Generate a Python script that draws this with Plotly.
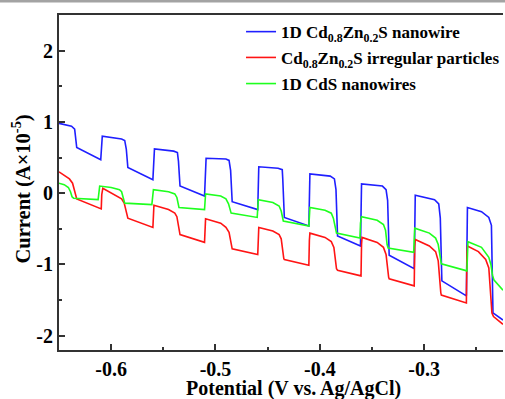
import plotly.graph_objects as go

# ---- data (Potential in V vs Ag/AgCl, Current in A x 1e-5) ----
blue_x = [-0.650, -0.638, -0.635, -0.634, -0.633,
          -0.610, -0.609, -0.6085,
          -0.590, -0.587, -0.5855, -0.5845, -0.584,
          -0.560, -0.559, -0.5585,
          -0.540, -0.5365, -0.5355, -0.5345, -0.534,
          -0.5105, -0.5095, -0.509,
          -0.490, -0.487, -0.4855, -0.4845, -0.484,
          -0.4595, -0.459, -0.4585,
          -0.440, -0.436, -0.4355, -0.4345, -0.434,
          -0.4105, -0.410, -0.4095,
          -0.390, -0.386, -0.3845, -0.3835, -0.383,
          -0.361, -0.3605, -0.360,
          -0.340, -0.3365, -0.335, -0.334, -0.3335,
          -0.3095, -0.309, -0.3085,
          -0.290, -0.286, -0.2845, -0.2835, -0.283,
          -0.2595, -0.259, -0.2585,
          -0.245, -0.238, -0.2355, -0.2345, -0.234,
          -0.2244]
blue_y = [0.98, 0.94, 0.90, 0.72, 0.64,
          0.47, 0.72, 0.80,
          0.76, 0.74, 0.62, 0.40, 0.36,
          0.19, 0.52, 0.62,
          0.59, 0.57, 0.45, 0.15, 0.10,
          -0.04, 0.40, 0.49,
          0.48, 0.46, 0.32, -0.08, -0.12,
          -0.23, 0.25, 0.37,
          0.35, 0.33, 0.20, -0.28, -0.34,
          -0.46, 0.15, 0.27,
          0.24, 0.20, 0.05, -0.52, -0.60,
          -0.74, 0.00, 0.13,
          0.10, 0.05, -0.10, -0.80, -0.87,
          -1.06, -0.15, -0.03,
          -0.09, -0.15, -0.35, -1.15, -1.23,
          -1.44, -0.30, -0.20,
          -0.26, -0.34, -0.45, -1.55, -1.68,
          -1.78]

red_x = [-0.650, -0.645, -0.640, -0.637, -0.6355, -0.634, -0.633,
         -0.6095, -0.609, -0.608,
         -0.595, -0.590, -0.5875, -0.586, -0.5845, -0.584,
         -0.560, -0.5595, -0.559,
         -0.545, -0.539, -0.537, -0.5355, -0.5345, -0.534,
         -0.5105, -0.510, -0.5095,
         -0.495, -0.490, -0.487, -0.4855, -0.4845, -0.484,
         -0.4595, -0.459, -0.4585,
         -0.445, -0.439, -0.437, -0.4355, -0.4345, -0.434,
         -0.4105, -0.410, -0.4095,
         -0.395, -0.389, -0.3865, -0.385, -0.384, -0.383,
         -0.3605, -0.360, -0.3595,
         -0.345, -0.339, -0.3365, -0.335, -0.334, -0.3335,
         -0.3095, -0.309, -0.3085,
         -0.295, -0.289, -0.2865, -0.285, -0.284, -0.2835,
         -0.2595, -0.259, -0.2585,
         -0.248, -0.241, -0.238, -0.236, -0.235, -0.2335,
         -0.2244]
red_y = [0.30, 0.25, 0.20, 0.14, 0.05, -0.05, -0.08,
         -0.22, -0.02, 0.07,
         -0.03, -0.08, -0.14, -0.25, -0.33, -0.35,
         -0.48, -0.28, -0.17,
         -0.23, -0.28, -0.33, -0.45, -0.55, -0.58,
         -0.69, -0.46, -0.36,
         -0.42, -0.48, -0.55, -0.70, -0.76, -0.78,
         -0.86, -0.58, -0.48,
         -0.53, -0.58, -0.64, -0.85, -0.92, -0.93,
         -1.01, -0.66, -0.56,
         -0.62, -0.68, -0.76, -0.98, -1.06, -1.08,
         -1.16, -0.72, -0.62,
         -0.69, -0.76, -0.86, -1.10, -1.18, -1.20,
         -1.30, -0.75, -0.65,
         -0.74, -0.82, -0.95, -1.30, -1.40, -1.43,
         -1.54, -0.85, -0.74,
         -0.82, -0.93, -1.05, -1.40, -1.68, -1.73,
         -1.84]

green_x = [-0.650, -0.645, -0.641, -0.639, -0.6375, -0.636,
           -0.6125, -0.612, -0.611,
           -0.600, -0.592, -0.590, -0.5885, -0.5875, -0.587,
           -0.561, -0.5605, -0.5595,
           -0.545, -0.539, -0.537, -0.5355, -0.535,
           -0.5105, -0.510, -0.5095,
           -0.495, -0.490, -0.4875, -0.486, -0.485,
           -0.460, -0.4595, -0.459,
           -0.445, -0.439, -0.437, -0.4355, -0.435,
           -0.4105, -0.410, -0.4095,
           -0.395, -0.389, -0.387, -0.385, -0.384,
           -0.3615, -0.361, -0.360,
           -0.345, -0.339, -0.337, -0.3355, -0.3345,
           -0.310, -0.3095, -0.309,
           -0.295, -0.289, -0.2865, -0.2845, -0.2835,
           -0.259, -0.2585, -0.258,
           -0.245, -0.238, -0.236, -0.2345, -0.233,
           -0.2244]
green_y = [0.14, 0.12, 0.08, 0.02, -0.05, -0.07,
           -0.09, 0.02, 0.10,
           0.08, 0.05, 0.02, -0.08, -0.13, -0.14,
           -0.16, -0.05, 0.05,
           0.02, -0.01, -0.06, -0.17, -0.20,
           -0.23, -0.10, -0.01,
           -0.04, -0.08, -0.15, -0.25, -0.28,
           -0.34, -0.18, -0.09,
           -0.13, -0.18, -0.25, -0.36, -0.39,
           -0.46, -0.30, -0.20,
           -0.24, -0.28, -0.35, -0.52, -0.56,
           -0.63, -0.42, -0.33,
           -0.38, -0.44, -0.52, -0.72, -0.77,
           -0.83, -0.60, -0.49,
           -0.56, -0.63, -0.72, -0.94, -0.99,
           -1.09, -0.78, -0.68,
           -0.76, -0.90, -1.00, -1.15, -1.22,
           -1.36]

series_names = ["1D Cd<sub>0.8</sub>Zn<sub>0.2</sub>S nanowire",
                "Cd<sub>0.8</sub>Zn<sub>0.2</sub>S irregular particles",
                "1D CdS nanowires"]
series_colors = ["#1f1fff", "#ff1414", "#1eff1e"]
legend_ids = ["legend", "legend2", "legend3"]

x_tickvals = [-0.6, -0.5, -0.4, -0.3]
x_ticktext = ["-0.6", "-0.5", "-0.4", "-0.3"]
x_minor = [-0.65, -0.55, -0.45, -0.35, -0.25]
y_tickvals = [2, 1, 0, -1, -2]
y_ticktext = ["2", "1", "0", "-1", "-2"]
y_minor = [1.5, 0.5, -0.5, -1.5]

FONT = "Liberation Serif"
TICKFONT = dict(family=FONT, size=20, color="black", weight="bold")
LEGFONT = dict(family=FONT, size=17, color="black", weight="bold")

fig = go.Figure()
for xs, ys, name, col, lg in zip([blue_x, red_x, green_x], [blue_y, red_y, green_y],
                                 series_names, series_colors, legend_ids):
    fig.add_trace(go.Scatter(x=xs, y=ys, mode="lines", name=name, legend=lg,
                             line=dict(color=col, width=1.6)))

fig.update_xaxes(range=[-0.65, -0.2244], tickvals=x_tickvals, ticktext=x_ticktext,
                 mirror=True, showline=True, linecolor="#333333", linewidth=2,
                 ticks="inside", ticklen=6, tickwidth=1.5, tickcolor="#333333",
                 showgrid=False, zeroline=False, tickfont=TICKFONT,
                 minor=dict(tickvals=x_minor, ticks="inside", ticklen=3,
                            tickwidth=1.5, tickcolor="#333333"))
fig.update_yaxes(range=[-2.2, 2.5], tickvals=y_tickvals, ticktext=y_ticktext,
                 showline=True, linecolor="#333333", linewidth=2,
                 ticks="inside", ticklen=6, tickwidth=1.5, tickcolor="#333333",
                 showgrid=False, zeroline=False, tickfont=TICKFONT,
                 minor=dict(tickvals=y_minor, ticks="inside", ticklen=3,
                            tickwidth=1.5, tickcolor="#333333"))

def leg(yc):
    return dict(x=0.41, y=yc, xanchor="left", yanchor="middle",
                bgcolor="rgba(0,0,0,0)", borderwidth=0, font=LEGFONT)

fig.update_layout(
    width=505, height=399,
    margin=dict(l=59, r=0, t=15, b=49),
    paper_bgcolor="white", plot_bgcolor="white",
    font=dict(family=FONT, color="black", weight="bold"),
    showlegend=True,
    legend=leg(0.949), legend2=leg(0.872), legend3=leg(0.794),
    annotations=[
        dict(text="Potential (V vs. Ag/AgCl)", xref="paper", yref="paper",
             x=0.529, y=-0.116, xanchor="center", yanchor="middle",
             showarrow=False, font=dict(family=FONT, size=20, weight="bold")),
        dict(text="Current (A×10<sup>-5</sup>)", xref="paper", yref="paper",
             x=-0.085, y=0.48, xanchor="center", yanchor="middle", textangle=-90,
             showarrow=False, font=dict(family=FONT, size=20.5, weight="bold")),
    ],
    shapes=[dict(type="rect", xref="paper", yref="paper", x0=-0.2, x1=1.1,
                 y0=1.0373, y1=1.06, fillcolor="#a3a3a3", line=dict(width=0),
                 layer="above")],
)

fig.write_html("out.html")
